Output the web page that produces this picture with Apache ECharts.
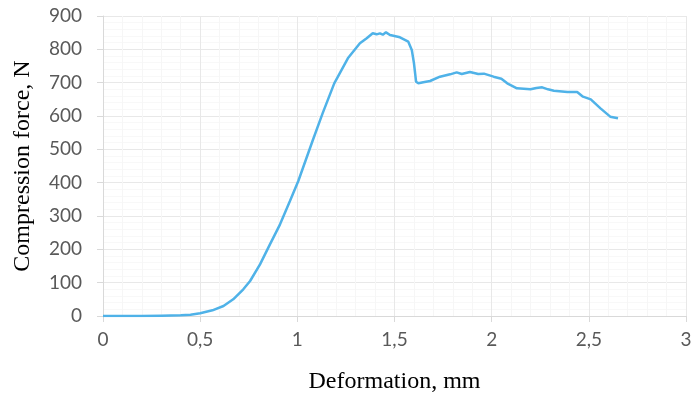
<!DOCTYPE html>
<html>
<head>
<meta charset="utf-8">
<script src="https://cdn.jsdelivr.net/npm/echarts@6/dist/echarts.min.js"></script>
<style>
  html, body { margin: 0; padding: 0; background: #fff; }
  #chart { width: 692px; height: 393px; }
</style>
</head>
<body>
<div id="chart"></div>
<script>
// deformation, mm
var deformation = [0, 0.1, 0.2, 0.3, 0.4, 0.45, 0.5, 0.563, 0.62, 0.67, 0.722, 0.757, 0.808, 0.859,
  0.911, 0.962, 1.005, 1.08, 1.13, 1.19, 1.26, 1.322, 1.357, 1.388, 1.408, 1.425, 1.44, 1.456,
  1.477, 1.528, 1.571, 1.589, 1.60, 1.611, 1.623, 1.648, 1.683, 1.734, 1.786, 1.82, 1.846,
  1.888, 1.931, 1.96, 2.01, 2.05, 2.08, 2.13, 2.20, 2.23, 2.26, 2.29, 2.32, 2.39, 2.44,
  2.47, 2.51, 2.56, 2.61, 2.65];
// compression force, N
var force = [0, 0, 0, 1, 2, 4, 8, 17, 30, 50, 80, 105, 155, 215,
  275, 345, 405, 528, 608, 698, 773, 818, 833, 848, 845, 848, 844, 851,
  843, 836, 823, 798, 759, 703, 698, 701, 705, 718, 725, 731, 726,
  732, 726, 727, 718, 712, 698, 683, 680, 684, 686, 680, 676, 672, 672,
  658, 650, 623, 598, 593];

var chart = echarts.init(document.getElementById('chart'));
var points = deformation.map(function (d, i) { return [d, force[i]]; });

var option = {
  animation: false,
  grid: { left: 103, right: 6, top: 16, bottom: 77, outerBoundsMode: 'none', containLabel: false },
  xAxis: {
    type: 'value',
    min: 0, max: 3, interval: 0.5,
    name: 'Deformation, mm',
    nameLocation: 'middle',
    nameGap: 54,
    nameTextStyle: { fontFamily: 'Liberation Serif', fontSize: 24, color: '#000' },
    axisLine: { lineStyle: { color: '#d9d9d9' } },
    axisTick: { show: true, length: 6, lineStyle: { color: '#d9d9d9' } },
    axisLabel: {
      margin: 14,
      fontFamily: 'Lato', fontSize: 19, color: '#595959',
      formatter: function (v) { return String(v).replace('.', ','); }
    },
    splitLine: { lineStyle: { color: '#e8e8e8' } },
    minorTick: { show: false, splitNumber: 5 },
    minorSplitLine: { show: true, lineStyle: { color: '#f6f6f6' } }
  },
  yAxis: {
    type: 'value',
    min: 0, max: 900, interval: 100,
    name: 'Compression force, N',
    nameLocation: 'middle',
    nameGap: 68,
    nameTextStyle: { fontFamily: 'Liberation Serif', fontSize: 24, color: '#000' },
    axisLine: { show: true, lineStyle: { color: '#d9d9d9' } },
    axisTick: { show: true, length: 6, lineStyle: { color: '#d9d9d9' } },
    axisLabel: { margin: 21, fontFamily: 'Lato', fontSize: 19, color: '#595959' },
    splitLine: { lineStyle: { color: '#e8e8e8' } },
    minorTick: { show: false, splitNumber: 5 },
    minorSplitLine: { show: true, lineStyle: { color: '#f8f8f8' } }
  },
  series: [{
    type: 'line',
    data: points,
    showSymbol: false,
    smooth: false,
    lineStyle: { color: '#4fb2e8', width: 2.5 }
  }]
};
chart.setOption(option);
</script>
</body>
</html>
